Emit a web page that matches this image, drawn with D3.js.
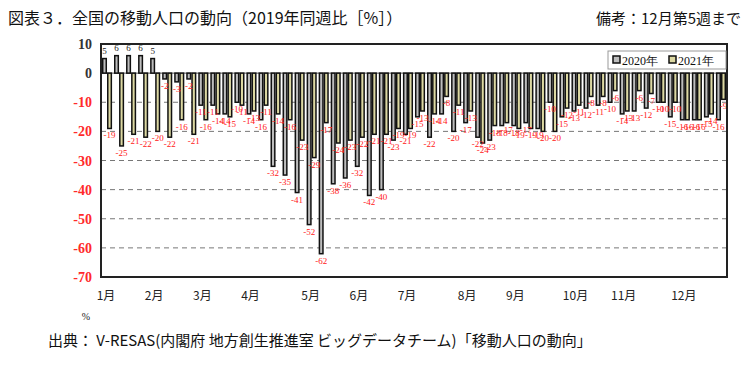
<!DOCTYPE html>
<html><head><meta charset="utf-8">
<script src="https://cdn.jsdelivr.net/npm/d3@7"></script>
<style>
html,body{margin:0;padding:0;background:#fff;}
svg{display:block;}
</style></head>
<body>
<svg id="c" width="752" height="383"></svg>
<script>
const weekNo = Array.from({length: 52}, (_, i) => i + 1);
const series = ["2020年", "2021年"];
const values2020 = [5,6,6,6,5,-2,-3,-2,-11,-11,-14,-10,-14,-16,-32,-35,-41,-52,-62,-38,-36,-32,-42,-40,-23,-21,-15,-22,-14,-20,-17,-22,-23,-18,-18,-17,-19,-10,-15,-13,-12,-11,-10,-14,-13,-12,-10,-15,-16,-16,-15,-16];
const values2021 = [-19,-25,-21,-22,-20,-22,-16,-21,-16,-14,-15,-11,-13,-11,-14,-16,-23,-29,-17,-24,-23,-22,-21,-21,-19,-19,-13,-14,-8,-11,-13,-24,-18,-17,-19,-19,-20,-20,-12,-11,-8,-8,-6,-13,-6,-7,-10,-10,-16,-16,-14,-9];
const monthLabels = ["1月","2月","3月","4月","5月","6月","7月","8月","9月","10月","11月","12月"];
const monthStartWeek = [1,5,9,13,18,22,26,31,35,40,44,49];
const yTicks = [10,0,-10,-20,-30,-40,-50,-60,-70];

const svg = d3.select("#c");
const L = 101, R = 727, T = 44, B = 277;

const x0 = d3.scaleBand().domain(weekNo).range([L, R]).paddingInner(0.16).paddingOuter(0.08);
const x1 = d3.scaleBand().domain(series).range([0, x0.bandwidth()]).padding(0);
const y = d3.scaleLinear().domain([-70, 10]).range([B, T]);

// title
svg.append("text").attr("x", 8).attr("y", 24)
  .attr("font-family", "Noto Sans CJK JP").attr("font-size", 16).attr("fill", "#111")
  .text("図表３．全国の移動人口の動向（2019年同週比［%］）");
svg.append("text").attr("x", 741).attr("y", 24).attr("text-anchor", "end")
  .attr("font-family", "Noto Sans CJK JP").attr("font-size", 15).attr("fill", "#111")
  .text("備考：12月第5週まで");

// grid
svg.append("g").selectAll("line").data(yTicks.filter(v => v < 0 && v > -70)).join("line")
  .attr("x1", L).attr("x2", R).attr("y1", d => y(d)).attr("y2", d => y(d))
  .attr("stroke", "#777").attr("stroke-width", 1).attr("stroke-dasharray", "5,4");
svg.append("line").attr("x1", L).attr("x2", R).attr("y1", y(0)).attr("y2", y(0))
  .attr("stroke", "#555").attr("stroke-width", 1);

// y labels
svg.append("g").selectAll("text").data(yTicks).join("text")
  .attr("x", 92).attr("y", d => y(d) + 5).attr("text-anchor", "end")
  .attr("font-family", "Liberation Serif").attr("font-size", 14).attr("font-weight", "bold")
  .attr("fill", d => d < 0 ? "#ff2a2a" : "#333")
  .text(d => d);

// bars
const rows = weekNo.map((w, i) => ({w, v: [values2020[i], values2021[i]]}));
const fills = {"2020年": "#bdbdbd", "2021年": "#dcd8a2"};
const g = svg.append("g");
rows.forEach(r => {
  series.forEach((s, j) => {
    const v = r.v[j];
    const bx = x0(r.w) + x1(s);
    const bw = x1.bandwidth();
    g.append("rect")
      .attr("x", bx + 0.75).attr("width", bw - 1.5)
      .attr("y", Math.min(y(v), y(0))).attr("height", Math.abs(y(v) - y(0)))
      .attr("fill", fills[s]).attr("stroke", "#111").attr("stroke-width", 1.5);
  });
});
// value labels
rows.forEach(r => {
  series.forEach((s, j) => {
    const v = r.v[j];
    const cx = x0(r.w) + x1(s) + x1.bandwidth() / 2;
    g.append("text")
      .attr("x", cx).attr("y", v >= 0 ? y(v) - 5 : y(v) + 10)
      .attr("text-anchor", "middle")
      .attr("font-family", "Liberation Serif").attr("font-size", 9)
      .attr("fill", v >= 0 ? "#222" : "#ff2020")
      .text(v);
  });
});

// frame
svg.append("rect").attr("x", L).attr("y", T).attr("width", R - L).attr("height", B - T)
  .attr("fill", "none").attr("stroke", "#222").attr("stroke-width", 2);

// legend
const lg = svg.append("g");
lg.append("rect").attr("x", 608).attr("y", 51).attr("width", 118).attr("height", 18)
  .attr("fill", "#fff").attr("stroke", "#999").attr("stroke-width", 1);
const legX = [613, 669];
series.forEach((s, j) => {
  lg.append("rect").attr("x", legX[j]).attr("y", 56).attr("width", 7).attr("height", 7)
    .attr("fill", fills[s]).attr("stroke", "#111").attr("stroke-width", 1.5);
  lg.append("text").attr("x", legX[j] + 9).attr("y", 65)
    .attr("font-family", "Liberation Serif").attr("font-size", 12).attr("fill", "#111")
    .text(s);
});

// month labels
svg.append("g").selectAll("text").data(monthLabels).join("text")
  .attr("x", (d, i) => x0(monthStartWeek[i]) + x0.bandwidth() / 2 - 1)
  .attr("y", 300).attr("text-anchor", "middle")
  .attr("font-family", "Noto Sans CJK JP").attr("font-size", 12).attr("fill", "#222")
  .text(d => d);

svg.append("text").attr("x", 86).attr("y", 320).attr("text-anchor", "middle")
  .attr("font-family", "Liberation Serif").attr("font-size", 10).attr("fill", "#222").text("%");

svg.append("text").attr("x", 48).attr("y", 346)
  .attr("font-family", "Noto Sans CJK JP").attr("font-size", 15).attr("fill", "#111")
  .text("出典： V-RESAS(内閣府 地方創生推進室 ビッグデータチーム)「移動人口の動向」");
</script>
</body></html>
